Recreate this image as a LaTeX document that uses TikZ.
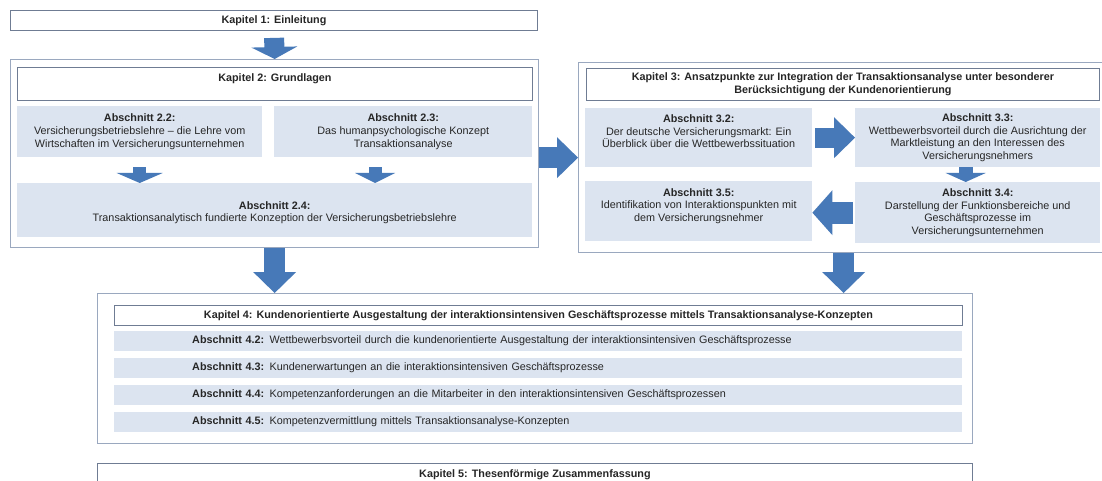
\documentclass[tikz,border=0pt]{standalone}
\usepackage{fontspec}
\setmainfont{Liberation Sans}
\usetikzlibrary{arrows.meta}
\definecolor{arrowblue}{HTML}{4779B8}
\definecolor{boxfill}{HTML}{DCE4F0}
\definecolor{outerline}{HTML}{9AA8BF}
\definecolor{titleline}{HTML}{6F7C93}
\definecolor{textgrey}{HTML}{262626}
\begin{document}
\begin{tikzpicture}[x=1pt, y=-1pt,
    every node/.style={font=\fontsize{10.8}{12.6}\selectfont, text=textgrey, inner sep=0pt, anchor=north west},
    outerbox/.style={draw=outerline, line width=1.3pt, fill=white},
    titlebox/.style={draw=titleline, line width=0.9pt, fill=white, align=center, font=\fontsize{10.8}{12.6}\selectfont\bfseries},
    secbox/.style={fill=boxfill, align=center},
    rowbox/.style={fill=boxfill, text width=692pt, inner xsep=78pt, minimum height=20pt, align=left},
    blockarrow/.style n args={3}{line width=#1, arrowblue, -{Triangle[length=#2, width=#3, line width=0pt]}}]
    \useasboundingbox (0,0) rectangle (1102,481);
    \clip (0,0) rectangle (1102,481);

    \node[titlebox, minimum width=527pt, minimum height=20pt] (k1) at (10,10) {Kapitel 1: Einleitung};

    \node[outerbox, minimum width=528pt, minimum height=188pt] (k2) at (10,59) {};
    \node[titlebox, minimum width=515pt, minimum height=33pt] (k2t) at (17,67) {Kapitel 2: Grundlagen\\ ~};
    \node[secbox, minimum width=245pt, minimum height=51pt] (a22) at (17,106) {\textbf{Abschnitt 2.2:}\\Versicherungsbetriebslehre -- die Lehre vom\\Wirtschaften im Versicherungsunternehmen};
    \node[secbox, minimum width=258pt, minimum height=51pt] (a23) at (274,106) {\textbf{Abschnitt 2.3:}\\Das humanpsychologische Konzept\\Transaktionsanalyse};
    \node[secbox, minimum width=515pt, minimum height=54pt] (a24) at (17,183) {~\\ \textbf{Abschnitt 2.4:}\\Transaktionsanalytisch fundierte Konzeption der Versicherungsbetriebslehre};

    \node[outerbox, minimum width=530pt, minimum height=190pt] (k3) at (578,62) {};
    \node[titlebox, minimum width=513pt, minimum height=32pt] (k3t) at (586,68) {Kapitel 3: Ansatzpunkte zur Integration der Transaktionsanalyse unter besonderer\\Berücksichtigung der Kundenorientierung};
    \node[secbox, minimum width=227pt, minimum height=59pt] (a32) at (585,108) {\textbf{Abschnitt 3.2:}\\Der deutsche Versicherungsmarkt: Ein\\Überblick über die Wettbewerbssituation\\ ~};
    \node[secbox, minimum width=245pt, minimum height=59pt] (a33) at (855,108) {\textbf{Abschnitt 3.3:}\\Wettbewerbsvorteil durch die Ausrichtung der\\Marktleistung an den Interessen des\\Versicherungsnehmers};
    \node[secbox, minimum width=245pt, minimum height=61pt] (a34) at (855,182) {\textbf{Abschnitt 3.4:}\\Darstellung der Funktionsbereiche und\\Geschäftsprozesse im\\Versicherungsunternehmen};
    \node[secbox, minimum width=227pt, minimum height=60pt] (a35) at (585,181) {\textbf{Abschnitt 3.5:}\\Identifikation von Interaktionspunkten mit\\dem Versicherungsnehmer\\ ~};

    \node[outerbox, minimum width=875pt, minimum height=150pt] (k4) at (97,293) {};
    \node[titlebox, minimum width=848pt, minimum height=20pt] (k4t) at (114,305) {Kapitel 4: Kundenorientierte Ausgestaltung der interaktionsintensiven Geschäftsprozesse mittels Transaktionsanalyse-Konzepten};
    \foreach \nr/\ytop/\txt in {
      2/331/Wettbewerbsvorteil durch die kundenorientierte Ausgestaltung der interaktionsintensiven Geschäftsprozesse,
      3/358/Kundenerwartungen an die interaktionsintensiven Geschäftsprozesse,
      4/385/Kompetenzanforderungen an die Mitarbeiter in den interaktionsintensiven Geschäftsprozessen,
      5/412/Kompetenzvermittlung mittels Transaktionsanalyse-Konzepten}
      \node[rowbox] (a4\nr) at (114,\ytop) {\textbf{Abschnitt 4.\nr:} \txt};

    \node[titlebox, minimum width=875pt, minimum height=22pt] (k5) at (97,463) {Kapitel 5: Thesenförmige Zusammenfassung};

    \draw[blockarrow={20pt}{12pt}{46pt}, shorten <=7pt] (k1.south) -- (k2.north);
    \draw[blockarrow={13pt}{10pt}{46pt}, shorten <=10pt] (a22.south) -- (a22.south |- a24.north);
    \draw[blockarrow={13pt}{10pt}{40pt}, shorten <=10pt] ([xshift=-28pt]a23.south) -- ([xshift=-28pt]a23.south |- a24.north);
    \draw[blockarrow={21pt}{21pt}{41pt}] (k3.west -| k2.east) -- (k3.west);
    \draw[blockarrow={20pt}{21pt}{41pt}, shorten <=3pt] (a32.east) -- (a32.east -| a33.west);
    \draw[blockarrow={14pt}{9pt}{40pt}] ([xshift=-12pt]a33.south) -- ([xshift=-12pt]a33.south |- a34.north);
    \draw[blockarrow={22pt}{20pt}{45pt}, shorten <=2pt] (a34.west) -- (a34.west -| a35.east);
    \draw[blockarrow={21pt}{21pt}{43pt}] (k2.south) -- (k2.south |- k4.north);
    \draw[blockarrow={21pt}{21pt}{43pt}] (k3.south) -- (k3.south |- k4.north);
\end{tikzpicture}
\end{document}
